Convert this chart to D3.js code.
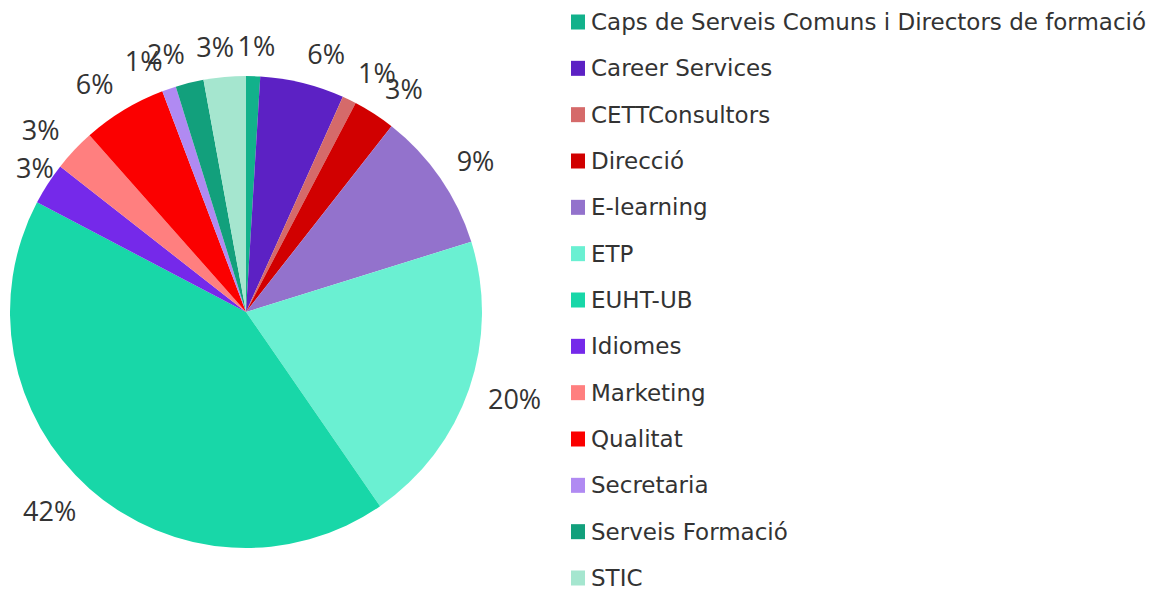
<!DOCTYPE html>
<html>
<head>
<meta charset="utf-8">
<script src="https://cdn.jsdelivr.net/npm/d3@7"></script>
<style>
  html, body { margin: 0; padding: 0; background: #ffffff; }
  svg { display: block; }
  text { font-family: "Open Sans", sans-serif; fill: #333333; }
  .legend text { font-family: "DejaVu Sans", sans-serif; }
</style>
</head>
<body>
<svg id="chart" width="1161" height="592"></svg>
<script>
// ---- data ----
const categories = [
  "Caps de Serveis Comuns i Directors de formació",
  "Career Services",
  "CETTConsultors",
  "Direcció",
  "E-learning",
  "ETP",
  "EUHT-UB",
  "Idiomes",
  "Marketing",
  "Qualitat",
  "Secretaria",
  "Serveis Formació",
  "STIC"
];
const values = [1, 6, 1, 3, 10, 21, 44, 3, 3, 6, 1, 2, 3];
const colors = [
  "#12b18b", "#5c21c4", "#d56a6a", "#d10000", "#9372cc", "#6af0d2", "#18d7a8",
  "#7529ea", "#ff7f7f", "#fb0000", "#b08af2", "#12a07c", "#a5e6cf"
];

// ---- percentages (largest remainder so they sum to 100) ----
function roundedPercents(vals) {
  const total = d3.sum(vals);
  const raw = vals.map(v => v / total * 100);
  const fl = raw.map(Math.floor);
  let left = 100 - d3.sum(fl);
  const order = raw.map((r, i) => ({ i, rem: r - Math.floor(r) }))
    .sort((a, b) => b.rem - a.rem || a.i - b.i);
  for (let k = 0; k < left; k++) fl[order[k].i] += 1;
  return fl;
}
const pctLabels = roundedPercents(values).map(p => p + "%");

// ---- layout ----
const svg = d3.select("#chart");
const cx = 246, cy = 312, radius = 236;
const labelRadius = radius + 20;
const labelFont = 27, labelH = 20;

const color = d3.scaleOrdinal().domain(categories).range(colors);
const pie = d3.pie().sort(null).value(d => d.value);
const arcs = pie(categories.map((c, i) => ({ name: c, value: values[i], label: pctLabels[i] })));
const arc = d3.arc().innerRadius(0).outerRadius(radius);

const g = svg.append("g").attr("transform", `translate(${cx},${cy})`);
g.selectAll("path.slice")
  .data(arcs)
  .join("path")
  .attr("class", "slice")
  .attr("d", arc)
  .attr("fill", d => color(d.data.name));

// labels
const lbl = g.selectAll("text.pct")
  .data(arcs)
  .join("text")
  .attr("class", "pct")
  .style("font-size", labelFont + "px")
  .text(d => d.data.label);

lbl.each(function (d) {
  const a = (d.startAngle + d.endAngle) / 2;
  const s = Math.sin(a), c = Math.cos(a);
  const px = labelRadius * s;
  const py = -labelRadius * c - (labelH / 2) * c;
  const w = this.getComputedTextLength();
  const t = Math.max(-1, Math.min(1, s / 0.22));
  let left = px - w / 2 + (w / 2) * t;
  // keep label inside the drawing area
  const minLeft = 16 - cx;
  if (left < minLeft) left = minLeft;
  d3.select(this)
    .attr("x", left)
    .attr("y", py + labelH / 2);
});

// ---- legend ----
const legend = svg.append("g").attr("class", "legend");
const rowY = d3.scalePoint().domain(categories).range([22, 578]);
const items = legend.selectAll("g.item")
  .data(categories)
  .join("g")
  .attr("class", "item")
  .attr("transform", d => `translate(571,${rowY(d)})`);
items.append("rect")
  .attr("x", 0).attr("y", -7.5)
  .attr("width", 14).attr("height", 15)
  .attr("fill", d => color(d));
items.append("text")
  .attr("x", 20)
  .attr("y", 8)
  .style("font-size", "23px")
  .text(d => d);
</script>
</body>
</html>
